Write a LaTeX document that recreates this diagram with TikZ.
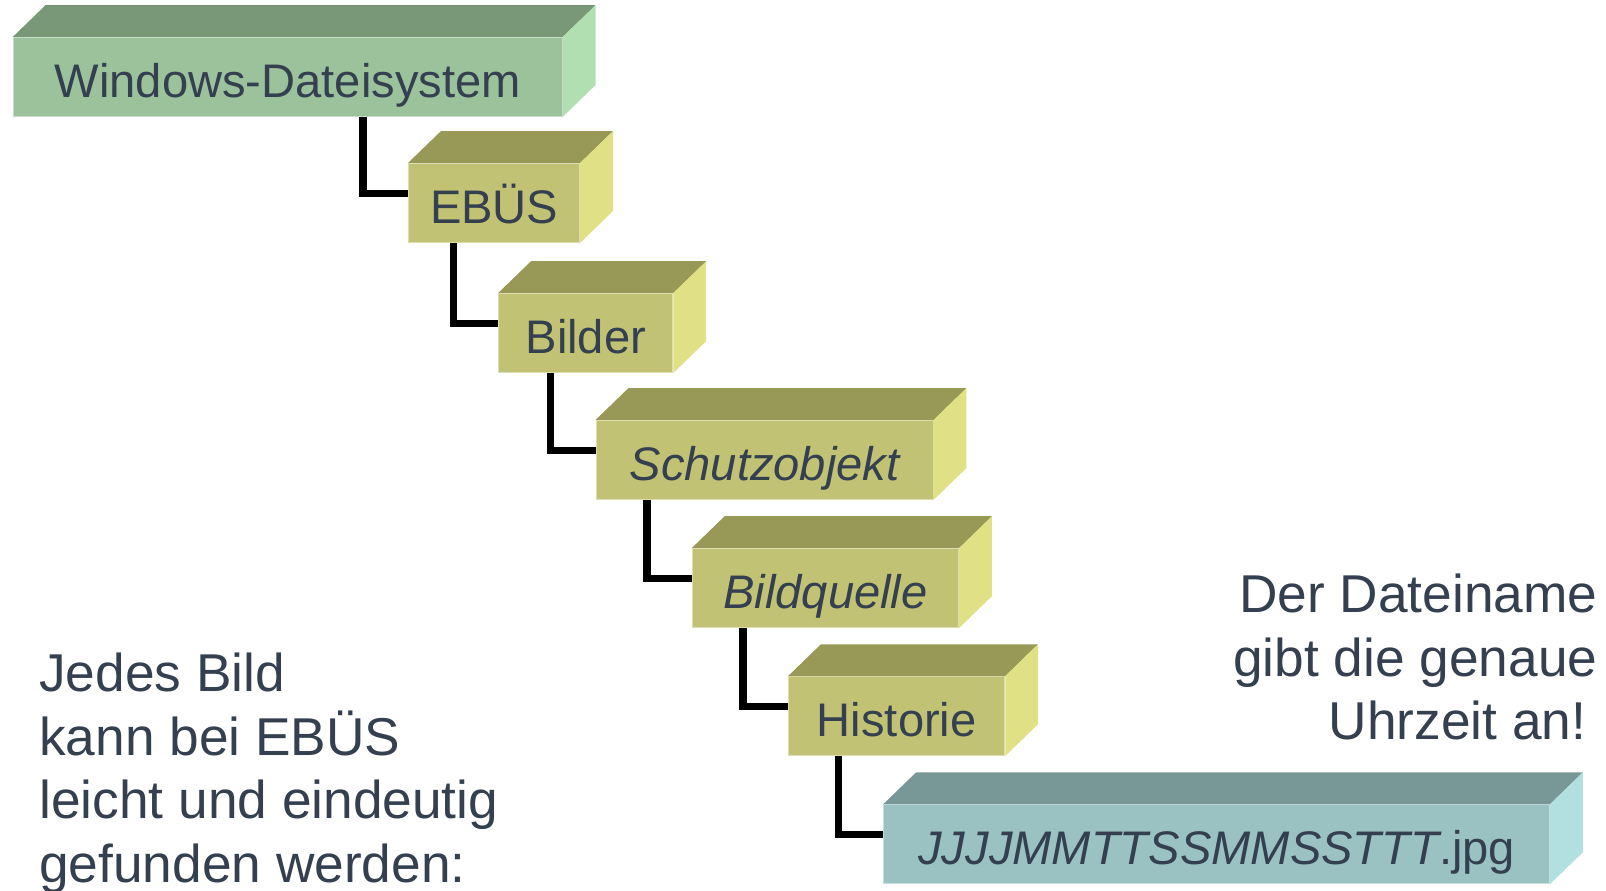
\documentclass[tikz,border=0pt]{standalone}
\usepackage{fontspec}
\setmainfont{Liberation Sans}
\usetikzlibrary{calc}
\definecolor{txt}{RGB}{52,63,80}
\definecolor{gfront}{RGB}{155,194,155}
\definecolor{gtop}{RGB}{120,152,120}
\definecolor{gside}{RGB}{178,223,178}
\definecolor{ofront}{RGB}{194,194,116}
\definecolor{otop}{RGB}{153,153,87}
\definecolor{oside}{RGB}{224,224,132}
\definecolor{tfront}{RGB}{155,194,194}
\definecolor{ttop}{RGB}{120,152,152}
\definecolor{tside}{RGB}{178,223,223}
\tikzset{
  front/.style={rectangle, inner sep=0pt, minimum height=38.5pt, text=txt,
    font=\fontsize{23}{27}\selectfont, text height=20.5pt, text depth=0pt,
    line width=0.5pt},
  conn/.style={line width=3.6pt, draw=black},
  sidetext/.style={inner sep=0pt, text=txt, font=\fontsize{26}{31}\selectfont},
}
\newcommand\drawcuboid[3]{%
  \fill[#2] (#1.north west) -- ++(16pt,15.5pt) -- ([shift={(16pt,15.5pt)}]#1.north east) -- (#1.north east) -- cycle;
  \fill[#3] (#1.north east) -- ++(16pt,15.5pt) -- ([shift={(16pt,15.5pt)}]#1.south east) -- (#1.south east) -- cycle;
}
\begin{document}
\begin{tikzpicture}[x=0.5pt,y=-0.5pt]
\useasboundingbox (0,0) rectangle (1568,869);
\clip (0,0) rectangle (1568,869);
\fill[white] (0,0) rectangle (1568,869);

\node[front, fill=gfront, draw=gfront!55!white, minimum width=268pt] (win) at (281,75) {Windows-Dateisystem};
\node[front, fill=ofront, draw=ofront!55!white, minimum width=83.5pt] (ebus) at (482.5,198) {EBÜS};
\node[front, fill=ofront, draw=ofront!55!white, minimum width=85pt] (bilder) at (572,325) {Bilder};
\node[front, fill=ofront, draw=ofront!55!white, minimum width=164.5pt] (schutz) at (746.5,449) {\itshape Schutzobjekt};
\node[front, fill=ofront, draw=ofront!55!white, minimum width=130pt] (quelle) at (806,574) {\itshape Bildquelle};
\node[front, fill=ofront, draw=ofront!55!white, minimum width=105.5pt] (hist) at (875.5,699) {Historie};
\node[front, fill=tfront, draw=tfront!55!white, minimum width=325pt] (file) at (1188,824) {{\itshape JJJJMMTTSSMMSSTTT}.jpg};

\drawcuboid{win}{gtop}{gside}
\drawcuboid{ebus}{otop}{oside}
\drawcuboid{bilder}{otop}{oside}
\drawcuboid{schutz}{otop}{oside}
\drawcuboid{quelle}{otop}{oside}
\drawcuboid{hist}{otop}{oside}
\drawcuboid{file}{ttop}{tside}

\foreach \a/\b in {win/ebus, ebus/bilder, bilder/schutz, schutz/quelle, quelle/hist, hist/file}{
  \coordinate (v\b) at ([xshift=-22pt]\b.north west);
  \draw[conn] (\a.south -| v\b) |- ([yshift=-15pt]\b.north west);
}

\foreach \t [count=\i from 0] in {Jedes Bild, kann bei EBÜS, leicht und eindeutig, gefunden werden:}
  \node[sidetext, anchor=base west] (l\i) at (38, 675+62.3*\i) {\t};

\node[sidetext, anchor=base east] (r1) at (1560,598) {Der Dateiname};
\node[sidetext, anchor=base east] (r2) at (1560,660) {gibt die genaue};
\node[sidetext, anchor=base east] (r3) at (1549,722) {Uhrzeit an!};
\end{tikzpicture}
\end{document}
